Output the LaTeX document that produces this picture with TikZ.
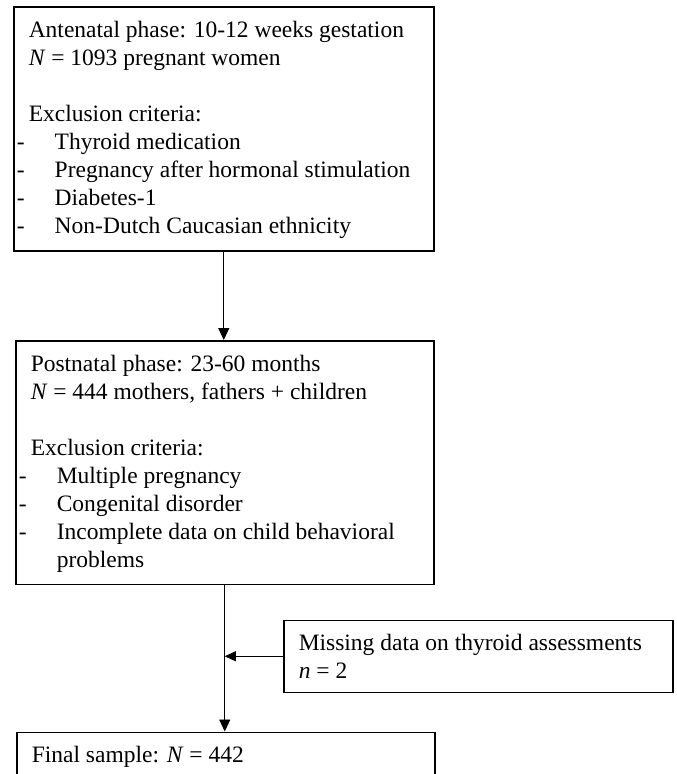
\documentclass[tikz,border=0pt]{standalone}
\usepackage{fontspec}
\setmainfont{Liberation Serif}
\usetikzlibrary{arrows.meta}
\newcommand{\dashitem}[1]{\leavevmode\llap{\makebox[12pt][l]{-}}\hspace*{26pt}#1}
\begin{document}
\begin{tikzpicture}[x=1pt, y=1pt, >={Triangle[length=12pt,width=11pt]},
    phase/.style={draw, line width=1.5pt, anchor=north west, inner xsep=15pt, inner ysep=14pt,
        font=\fontsize{23.5}{28}\selectfont},
    flow/.style={line width=0.8pt, ->}]
    \useasboundingbox (0,0) rectangle (677,-774);
    \node [phase] (ante) at (13,-6) {\parbox[t][216pt][t]{390pt}{\raggedright
        Antenatal phase: 10-12 weeks gestation\\
        \textit{N} = 1093 pregnant women\\[28pt]
        Exclusion criteria:\\
        \dashitem{Thyroid medication}\\
        \dashitem{Pregnancy after hormonal stimulation}\\
        \dashitem{Diabetes-1}\\
        \dashitem{Non-Dutch Caucasian ethnicity}}};
    \node [phase] (post) at (15,-340) {\parbox[t][215.5pt][t]{388pt}{\raggedright
        Postnatal phase: 23-60 months\\
        \textit{N} = 444 mothers, fathers + children\\[28pt]
        Exclusion criteria:\\
        \dashitem{Multiple pregnancy}\\
        \dashitem{Congenital disorder}\\
        \dashitem{Incomplete data on child behavioral}\\
        \hspace*{26pt}problems}};
    \node [phase] (miss) at (283,-619.5) {\parbox[t][44pt][t]{359pt}{\raggedright
        Missing data on thyroid assessments\\
        \textit{n} = 2}};
    \node [phase] (final) at (16,-731.5) {\parbox[t][40pt][t]{388pt}{\raggedright
        Final sample: \textit{N} = 442}};
    \draw [flow] (ante.south) -- (ante.south |- post.north);
    \draw [flow] (post.south) -- (post.south |- final.north);
    \draw [flow, >={Triangle[length=11pt,width=10pt]}] (miss.west) -- (miss.west -| post.south);
\end{tikzpicture}
\end{document}
